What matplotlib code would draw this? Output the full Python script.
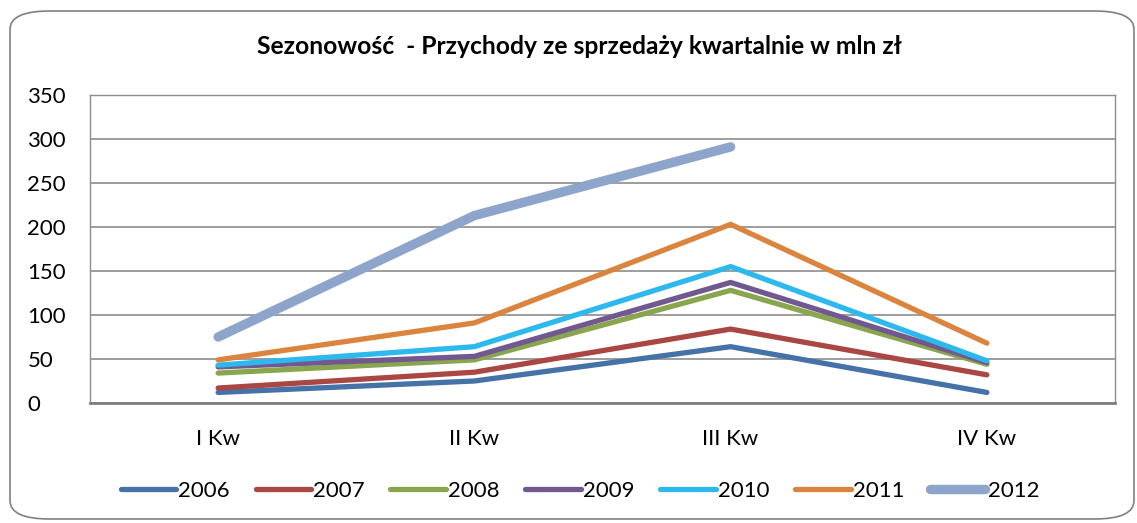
import matplotlib.pyplot as plt
from matplotlib.patches import FancyBboxPatch

plt.rcParams['font.family'] = ['Lato', 'DejaVu Sans']

kwartaly = ['I Kw', 'II Kw', 'III Kw', 'IV Kw']
lata = ['2006', '2007', '2008', '2009', '2010', '2011', '2012']

v2006 = [12, 25, 64, 12]
v2007 = [17, 35, 84, 32]
v2008 = [34, 49, 128, 44]
v2009 = [41, 53, 137, 46]
v2010 = [43, 64, 155, 48]
v2011 = [49, 91, 203, 68]
v2012 = [75, 213, 291]

serie = [v2006, v2007, v2008, v2009, v2010, v2011, v2012]
kolory = ['#4572A7', '#AA4643', '#89A54E', '#71588F', '#2DB8EE', '#DB843D', '#8EA5CB']
grubosci = [3.8, 3.8, 3.8, 3.8, 3.8, 3.8, 6.8]

fig = plt.figure(figsize=(11.37, 5.23), dpi=100)

# ramka wykresu z zaokraglonymi rogami
ramka = FancyBboxPatch((10 / 1137, 4 / 523), 1124 / 1137, 508 / 523,
                       boxstyle='round,pad=0,rounding_size=0.035',
                       transform=fig.transFigure, facecolor='white',
                       edgecolor='#808080', linewidth=1.2, zorder=-1)
fig.patches.append(ramka)

ax = fig.add_axes([90 / 1137, 1 - 403 / 523, 1025 / 1137, 308 / 523])
ax.set_facecolor('none')

for rok, wartosci, kolor, lw in zip(lata, serie, kolory, grubosci):
    ax.plot(range(len(wartosci)), wartosci, color=kolor, linewidth=lw,
            solid_capstyle='round', solid_joinstyle='miter', label=rok)

ax.set_xlim(-0.5, 3.5)
ax.set_ylim(0, 350)
ax.set_yticks(range(0, 351, 50))
ax.set_xticks(range(4))
ax.set_xticklabels(kwartaly)
ax.tick_params(axis='both', length=0, labelsize=16, colors='black')
ax.tick_params(axis='x', pad=19)
for lbl in ax.get_yticklabels():
    lbl.set_horizontalalignment('left')
ax.tick_params(axis='y', pad=45)

ax.yaxis.grid(True, color='#8c8c8c', linewidth=1.2)
ax.set_axisbelow(True)
for s in ['left', 'top', 'right']:
    ax.spines[s].set_color('#8c8c8c')
    ax.spines[s].set_linewidth(1.0)
ax.spines['bottom'].set_color('#808080')
ax.spines['bottom'].set_linewidth(2.0)

fig.text(0.51, 1 - 47 / 523, 'Sezonowość  - Przychody ze sprzedaży kwartalnie w mln zł',
         ha='center', va='center', fontsize=17.7, fontweight='bold')

fig.legend(loc='center', bbox_to_anchor=(0.51, 1 - 491 / 523), ncol=7,
           frameon=False, fontsize=16, handlelength=2.5, handletextpad=0.1,
           columnspacing=1.15)

fig.savefig('out.png', dpi=100)
